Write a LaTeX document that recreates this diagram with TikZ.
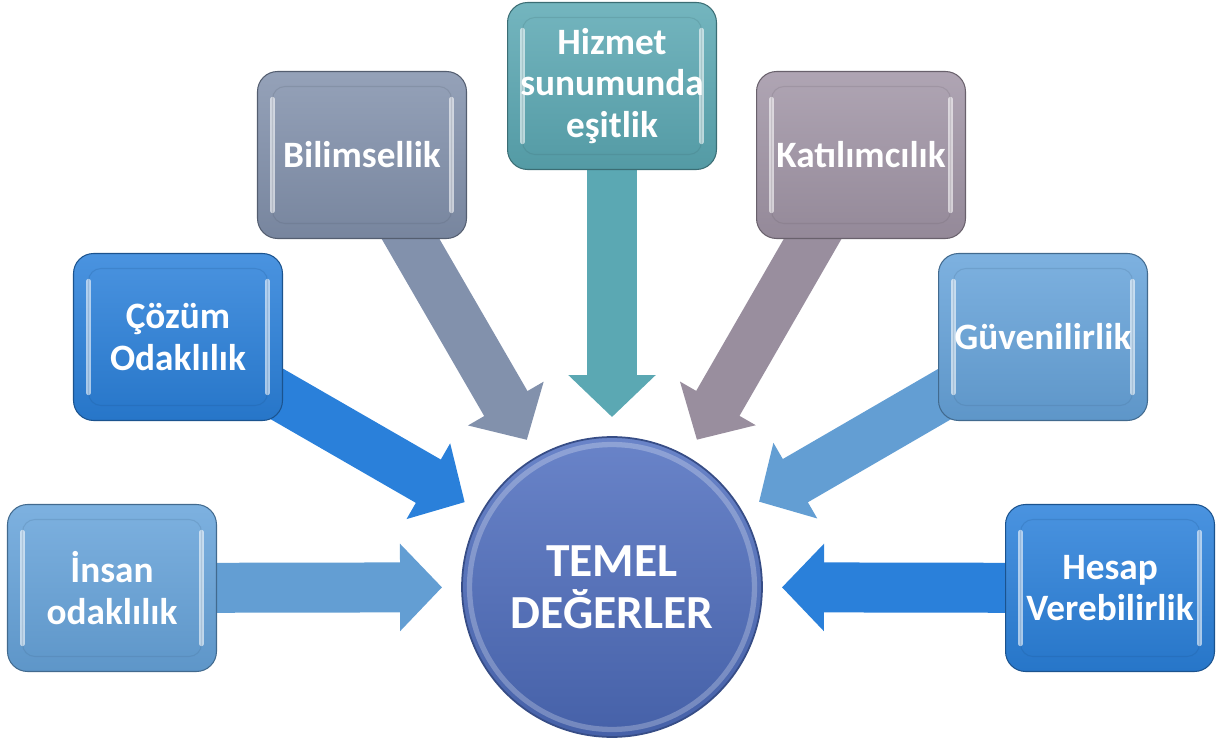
\documentclass[tikz,border=0pt]{standalone}
\usepackage{fontspec}
\setmainfont{Carlito}
\usetikzlibrary{
    arrows.meta,
    calc,
    backgrounds,
    positioning
}

\definecolor{softblue}{HTML}{66A3DA}
\definecolor{deepblue}{HTML}{2A80DA}
\definecolor{slate}{HTML}{8291AC}
\definecolor{tealish}{HTML}{5BA8B3}
\definecolor{mauve}{HTML}{A195A6}
\definecolor{corefill}{HTML}{4F6EBF}

\tikzset{
    valuebox/.style={draw=#1!65!black, line width=0.6pt, rounded corners=0.4cm,
        minimum width=4.18cm, minimum height=3.34cm, inner sep=1pt,
        top color=#1!85!white, bottom color=#1!92!black,
        text=white, align=center, font=\bfseries\fontsize{21.2}{23.6}\selectfont,
        path picture={
            \draw[white, opacity=.6, line width=2.5pt, line cap=round]
                ([shift={(0.3cm,-0.55cm)}]path picture bounding box.north west) --
                ([shift={(0.3cm,0.55cm)}]path picture bounding box.south west);
            \draw[white, opacity=.6, line width=2.5pt, line cap=round]
                ([shift={(-0.3cm,-0.55cm)}]path picture bounding box.north east) --
                ([shift={(-0.3cm,0.55cm)}]path picture bounding box.south east);
            \draw[#1!60!black, opacity=.18, rounded corners=0.25cm]
                ([shift={(0.3cm,-0.3cm)}]path picture bounding box.north west) rectangle
                ([shift={(-0.3cm,0.3cm)}]path picture bounding box.south east);
        }},
    blockarrow/.style={draw=#1, line width=1cm,
        -{Triangle[length=0.84cm, width=1.7cm]}}
}

\begin{document}
\begin{tikzpicture}[x=0.02cm, y=-0.02cm]
    \useasboundingbox (0,0) rectangle (1223,742);

    % centre
    \node[circle, minimum size=6cm, inner sep=0pt, draw=corefill!70!black, line width=1pt,
        top color=corefill!85!white, bottom color=corefill!88!black,
        text=white, align=center, font=\bfseries\fontsize{27}{29.6}\selectfont,
        path picture={
            \draw[white, opacity=.25, line width=3pt]
                (path picture bounding box.center) circle (2.85cm);
        }] (core) at (612, 587) {TEMEL\\DEĞERLER};

    % values
    \node[valuebox=softblue] (n1) at (112, 588) {İnsan\\odaklılık};
    \node[valuebox=deepblue] (n2) at (178, 337) {Çözüm\\Odaklılık};
    \node[valuebox=slate] (n3) at (362, 155) {Bilimsellik};
    \node[valuebox=tealish] (n4) at (612, 86) {Hizmet\\sunumunda\\eşitlik};
    \node[valuebox=mauve] (n5) at (861, 155) {Katılımcılık};
    \node[valuebox=softblue] (n6) at (1043, 337) {Güvenilirlik};
    \node[valuebox=deepblue] (n7) at (1110, 588) {Hesap\\Verebilirlik};

    % arrow tips, 170px off the centre
    \coordinate (t1) at ($(core.center)!3.4cm!(n1.center)$);
    \coordinate (t2) at ($(core.center)!3.4cm!(n2.center)$);
    \coordinate (t3) at ($(core.center)!3.4cm!(n3.center)$);
    \coordinate (t4) at ($(core.center)!3.4cm!(n4.center)$);
    \coordinate (t5) at ($(core.center)!3.4cm!(n5.center)$);
    \coordinate (t6) at ($(core.center)!3.4cm!(n6.center)$);
    \coordinate (t7) at ($(core.center)!3.4cm!(n7.center)$);

    \begin{scope}[on background layer]
        \draw
        (n1.center) edge[blockarrow=softblue!97!black] (t1)
        (n2.center) edge[blockarrow=deepblue] (t2)
        (n3.center) edge[blockarrow=slate] (t3)
        (n4.center) edge[blockarrow=tealish] (t4)
        (n5.center) edge[blockarrow=mauve!95!black] (t5)
        (n6.center) edge[blockarrow=softblue!97!black] (t6)
        (n7.center) edge[blockarrow=deepblue] (t7);
    \end{scope}
\end{tikzpicture}
\end{document}
